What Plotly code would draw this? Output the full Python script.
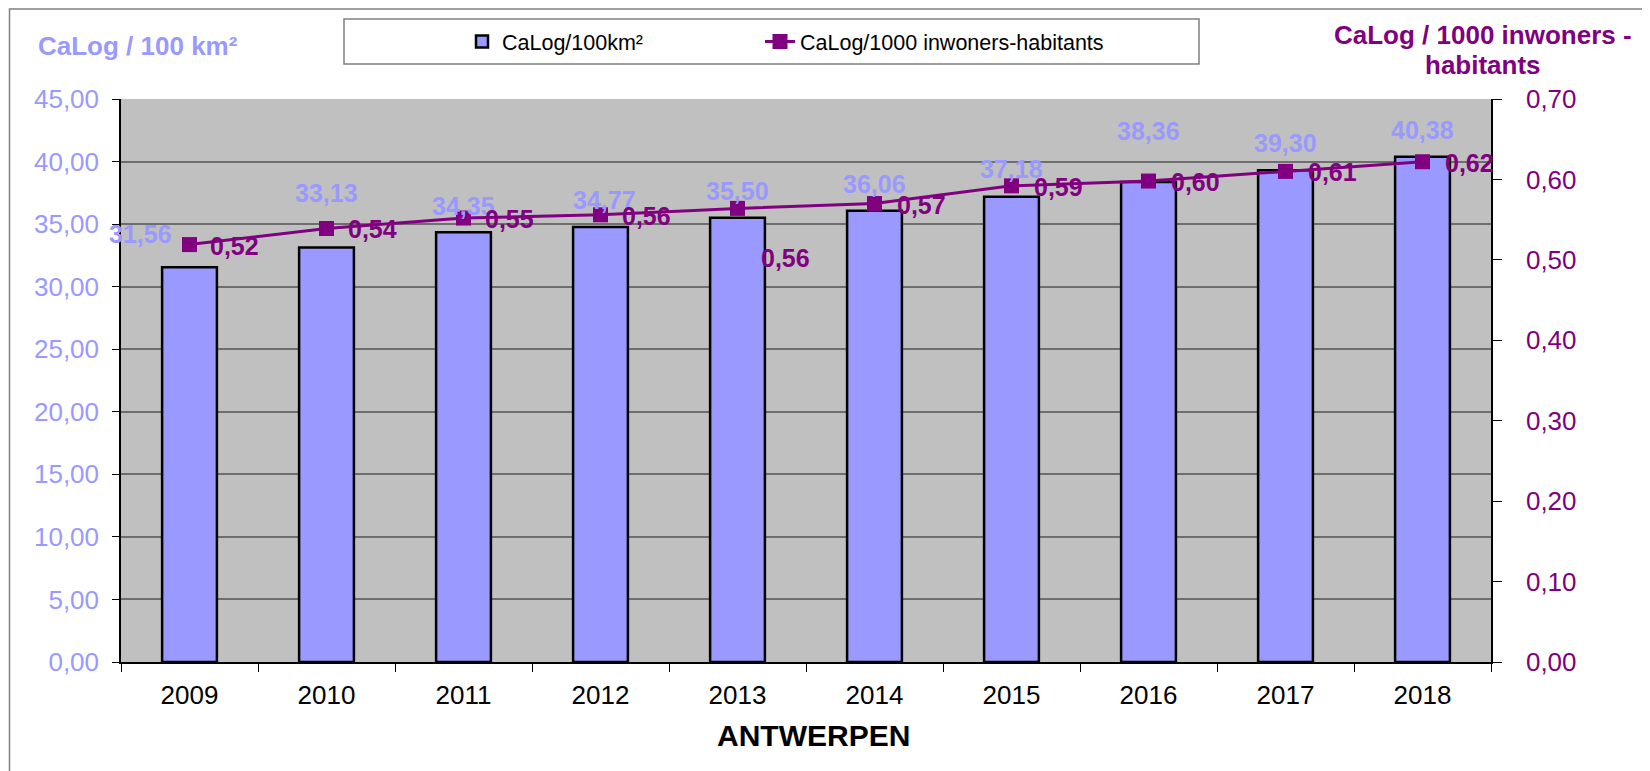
"""
CaLog density chart for Antwerpen (per 100 km² and per 1000 inhabitants)
"""

import plotly.graph_objects as go

# Data
years = ["2009", "2010", "2011", "2012", "2013", "2014", "2015", "2016", "2017", "2018"]
calog_per_100km = [31.56, 33.13, 34.35, 34.77, 35.50, 36.06, 37.18, 38.36, 39.30, 40.38]
calog_per_1000 = [0.519, 0.539, 0.552, 0.556, 0.564, 0.570, 0.592, 0.598, 0.610, 0.622]

left_ticks = [0, 5, 10, 15, 20, 25, 30, 35, 40, 45]
right_ticks = [0, 0.1, 0.2, 0.3, 0.4, 0.5, 0.6, 0.7]

# Label offsets in px (hand placed in the original)
bar_label_dx = [-49, 0, 0, 4, 0, 0, 0, 0, 0, 0]
bar_label_dy = [33, 55, 26, 27, 27, 27, 28, 51, 27, 27]
line_label_dx = [45, 46, 46, 46, 48, 47, 47, 47, 47, 47]
line_label_dy = [-1, -1, -1, -1, -50, -1, -1, -1, -1, -1]

FONT = "Liberation Sans, Arial, sans-serif"
BAR_COLOR = "#9999FF"
LINE_COLOR = "#800080"

# page offset (browser body margin) and plot area in screen px (1650 x 771)
SHIFT = 8
PL, PR, PT, PB = 121, 1491, 99, 662


def px_x(x):
    return (x - PL) / (PR - PL)


def px_y(y):
    return (PB - y) / (PB - PT)


def fmt(v):
    return f"{v:.2f}".replace(".", ",")


def paper_text(text, x, y, size, color):
    return dict(
        x=px_x(x), y=px_y(y), xref="paper", yref="paper",
        xanchor="center", yanchor="middle",
        text=text, showarrow=False,
        font=dict(family=FONT, size=size, color=color),
    )


fig = go.Figure()

fig.add_trace(
    go.Bar(
        x=years,
        y=calog_per_100km,
        name="CaLog/100km²",
        marker=dict(color=BAR_COLOR, line=dict(color="black", width=2.5)),
        legend="legend",
    )
)

fig.add_trace(
    go.Scatter(
        x=years,
        y=calog_per_1000,
        name="CaLog/1000 inwoners-habitants",
        yaxis="y2",
        mode="lines+markers",
        line=dict(color=LINE_COLOR, width=3),
        marker=dict(symbol="square", size=15, color=LINE_COLOR),
        legend="legend2",
    )
)

annotations = []

# data labels (x given as category index)
for i in range(len(years)):
    annotations.append(dict(
        x=i, y=calog_per_100km[i], xref="x", yref="y",
        xanchor="center", yanchor="middle",
        text="<b>" + fmt(calog_per_100km[i]) + "</b>", showarrow=False,
        xshift=bar_label_dx[i], yshift=bar_label_dy[i],
        font=dict(family=FONT, size=25, color=BAR_COLOR),
    ))
for i in range(len(years)):
    annotations.append(dict(
        x=i, y=calog_per_1000[i], xref="x", yref="y2",
        xanchor="center", yanchor="middle",
        text="<b>" + fmt(calog_per_1000[i]) + "</b>", showarrow=False,
        xshift=line_label_dx[i], yshift=line_label_dy[i],
        font=dict(family=FONT, size=25, color=LINE_COLOR),
    ))

# axis titles
annotations.append(paper_text("<b>CaLog / 100 km²</b>", 138, 46, 26, BAR_COLOR))
annotations.append(paper_text("<b>CaLog / 1000 inwoners -</b>", 1483, 35, 26, LINE_COLOR))
annotations.append(paper_text("<b>habitants</b>", 1483, 65, 26, LINE_COLOR))
annotations.append(paper_text("<b>ANTWERPEN</b>", 814, 735, 30, "black"))

shapes = [
    # outer chart frame
    dict(type="rect", xref="paper", yref="paper",
         x0=px_x(9.5), y0=px_y(800), x1=px_x(1700), y1=px_y(9),
         line=dict(color="#808080", width=1.5), layer="below"),
    # legend box
    dict(type="rect", xref="paper", yref="paper",
         x0=px_x(344), y0=px_y(64), x1=px_x(1199), y1=px_y(19),
         line=dict(color="#808080", width=1.5)),
]

legend_style = dict(
    orientation="h", xanchor="left", yanchor="middle",
    bgcolor="rgba(0,0,0,0)",
    font=dict(family=FONT, size=21.5, color="black"),
)

fig.update_layout(
    width=1650 - SHIFT,
    height=771 - SHIFT,
    margin=dict(l=PL - SHIFT, r=1650 - PR, t=PT - SHIFT, b=771 - PB, autoexpand=False),
    paper_bgcolor="white",
    plot_bgcolor="#C0C0C0",
    separators=", ",
    bargap=0.6,
    font=dict(family=FONT, size=26, color="black"),
    showlegend=True,
    legend=dict(x=px_x(462), y=px_y(41.5), **legend_style),
    legend2=dict(x=px_x(760), y=px_y(41.5), **legend_style),
    xaxis=dict(
        type="category",
        range=[-0.5, len(years) - 0.5],
        autorange=False,
        automargin=False,
        showline=True, linecolor="black", linewidth=1.5,
        ticks="outside", tickson="boundaries", ticklen=8, tickcolor="black",
        ticklabelstandoff=9,
        tickangle=0,
        tickfont=dict(family=FONT, size=26, color="black"),
        showgrid=False,
    ),
    yaxis=dict(
        range=[0, 45],
        autorange=False,
        automargin=False,
        tickvals=left_ticks,
        tickformat=".2f",
        showline=True, linecolor="black", linewidth=1.5,
        ticks="outside", ticklen=7, tickcolor="black",
        ticklabelstandoff=8,
        tickfont=dict(family=FONT, size=26, color=BAR_COLOR),
        showgrid=True, gridcolor="#6e6e6e", gridwidth=1.5,
        zeroline=False,
    ),
    yaxis2=dict(
        range=[0, 0.7],
        autorange=False,
        automargin=False,
        tickvals=right_ticks,
        tickformat=".2f",
        overlaying="y",
        side="right",
        showline=True, linecolor="black", linewidth=1.5,
        ticks="outside", ticklen=9, tickcolor="black",
        ticklabelstandoff=19,
        tickfont=dict(family=FONT, size=26, color=LINE_COLOR),
        showgrid=False,
        zeroline=False,
    ),
    annotations=annotations,
    shapes=shapes,
)

fig.write_html("out.html")
